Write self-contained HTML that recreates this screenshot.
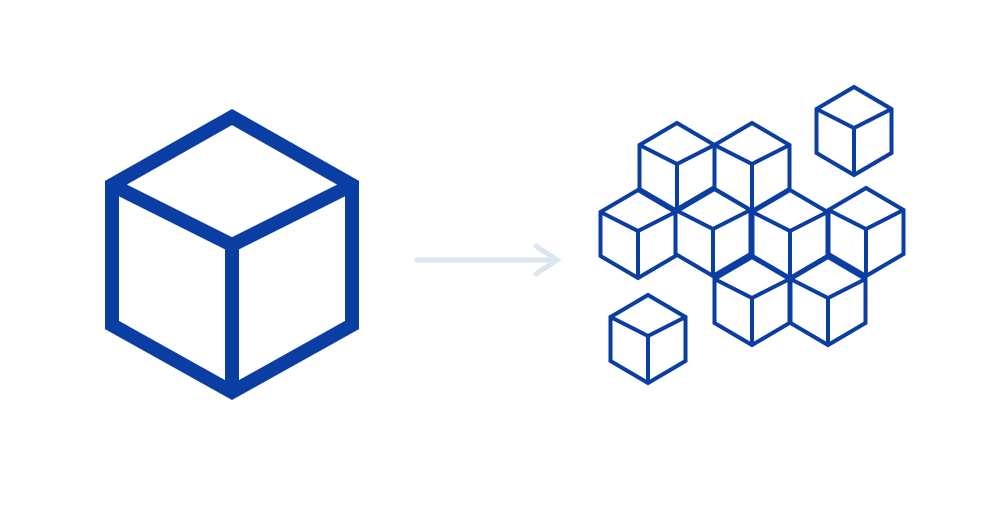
<!DOCTYPE html>
<html><head><style>html,body{margin:0;background:#fff}</style></head><body>
<svg width="1000" height="500" viewBox="0 0 1000 500" xmlns="http://www.w3.org/2000/svg">
<defs>
<g id="c" fill="none" stroke="#0a3ea3" stroke-width="4" stroke-linejoin="miter">
<path d="M0 0 L37.5 22 L37.5 66 L0 88 L-37.5 66 L-37.5 22 Z"/>
<path d="M-37.5 22 L0 41 L37.5 22 M0 41 L0 88"/>
</g>
</defs>
<g fill="none" stroke="#0a3ea3" stroke-width="14" stroke-linejoin="miter">
<path d="M232 117 L352 185 L352 325 L232 392 L112 325 L112 185 Z"/>
<path d="M112 185 L232 245 L352 185 M232 245 L232 392"/>
</g>
<g stroke="#dce6f0" stroke-width="5" fill="none" stroke-linecap="round">
<path d="M417 260 L557 260"/>
<path d="M536 246 L557 260 L536 274"/>
</g>
<use href="#c" x="677" y="123"/>
<use href="#c" x="752" y="123"/>
<use href="#c" x="638" y="190"/>
<use href="#c" x="713" y="188"/>
<use href="#c" x="790" y="190"/>
<use href="#c" x="866" y="188"/>
<use href="#c" x="752" y="257"/>
<use href="#c" x="828" y="257"/>
<use href="#c" x="648" y="295"/>
<use href="#c" x="854" y="87"/>
</svg>
</body></html>
